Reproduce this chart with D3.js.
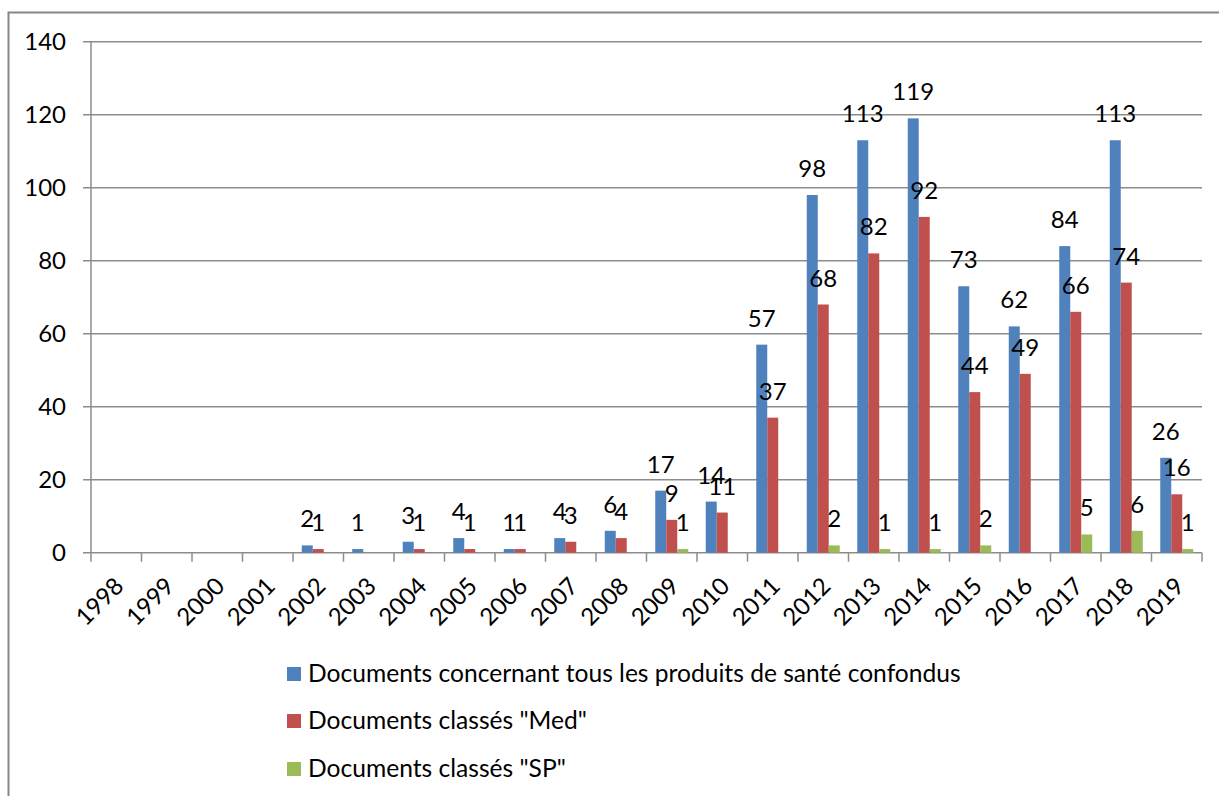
<!DOCTYPE html>
<html>
<head>
<meta charset="utf-8">
<script src="https://cdn.jsdelivr.net/npm/d3@7"></script>
<style>
  body { margin: 0; background: #fff; }
  svg text { font-family: Lato, "Open Sans", sans-serif; fill: #000; }
</style>
</head>
<body>
<div id="chart"></div>
<script>
// years on the x axis
var years = ["1998", "1999", "2000", "2001", "2002", "2003", "2004", "2005", "2006", "2007", "2008",
  "2009", "2010", "2011", "2012", "2013", "2014", "2015", "2016", "2017", "2018", "2019"];

// null = nothing plotted for that year
var tous = [null, null, null, null, 2, 1, 3, 4, 1, 4, 6, 17, 14, 57, 98, 113, 119, 73, 62, 84, 113, 26];
var med = [null, null, null, null, 1, null, 1, 1, 1, 3, 4, 9, 11, 37, 68, 82, 92, 44, 49, 66, 74, 16];
var sp = [null, null, null, null, null, null, null, null, null, null, null, 1, null, null, 2, 1, 1, 2, null, 5, 6, 1];

var seriesNames = [
  "Documents concernant tous les produits de santé confondus",
  "Documents classés \"Med\"",
  "Documents classés \"SP\""
];
var seriesColors = ["#4F81BD", "#C0504D", "#9BBB59"];
var yTicks = [0, 20, 40, 60, 80, 100, 120, 140];

var W = 1219, H = 796;
var margin = {top: 41.7, left: 91, right: 1202, bottom: 552.7};
var fontSize = 24;

var svg = d3.select("#chart").append("svg")
  .attr("width", W)
  .attr("height", H);

// outer frame (runs off the right and bottom edges)
svg.append("rect")
  .attr("x", 8.5)
  .attr("y", 12.5)
  .attr("width", W + 20)
  .attr("height", H + 20)
  .attr("fill", "none")
  .attr("stroke", "#868686")
  .attr("stroke-width", 2);

var x = d3.scaleBand()
  .domain(years)
  .range([margin.left, margin.right]);

var inner = d3.scaleBand()
  .domain([0, 1, 2])
  .range([x.bandwidth() * 0.1733, x.bandwidth() * 0.8267]);

var y = d3.scaleLinear()
  .domain([0, 140])
  .range([margin.bottom, margin.top]);

// gridlines
svg.append("g")
  .selectAll("line")
  .data(yTicks)
  .enter()
  .append("line")
  .attr("x1", margin.left - 8)
  .attr("x2", margin.right)
  .attr("y1", function(d) { return y(d); })
  .attr("y2", function(d) { return y(d); })
  .attr("stroke", "#8c8c8c")
  .attr("stroke-width", 1.5);

// y axis line
svg.append("line")
  .attr("x1", margin.left)
  .attr("x2", margin.left)
  .attr("y1", y(140))
  .attr("y2", y(0))
  .attr("stroke", "#8c8c8c")
  .attr("stroke-width", 1.5);

// y tick labels
svg.append("g")
  .selectAll("text")
  .data(yTicks)
  .enter()
  .append("text")
  .attr("x", 66)
  .attr("y", function(d) { return y(d); })
  .attr("dy", "0.35em")
  .attr("text-anchor", "end")
  .style("font-size", fontSize + "px")
  .text(function(d) { return d; });

// x ticks at band edges
var edges = years.map(function(d) { return x(d); }).concat([margin.right]);
svg.append("g")
  .selectAll("line")
  .data(edges)
  .enter()
  .append("line")
  .attr("x1", function(d) { return d; })
  .attr("x2", function(d) { return d; })
  .attr("y1", y(0))
  .attr("y2", y(0) + 9)
  .attr("stroke", "#8c8c8c")
  .attr("stroke-width", 1.5);

// x labels, rotated
svg.append("g")
  .selectAll("text")
  .data(years)
  .enter()
  .append("text")
  .attr("text-anchor", "end")
  .attr("transform", function(d) {
    return "translate(" + (x(d) + x.bandwidth() / 2 + 3) + "," + (y(0) + 29) + ") rotate(-45)";
  })
  .attr("dy", "0.35em")
  .style("font-size", fontSize + "px")
  .text(function(d) { return d; });

// bars + value labels
var allSeries = [tous, med, sp];
allSeries.forEach(function(values, si) {
  var pts = [];
  values.forEach(function(v, i) {
    if (v !== null) pts.push({year: years[i], value: v});
  });

  svg.append("g")
    .selectAll("rect")
    .data(pts)
    .enter()
    .append("rect")
    .attr("x", function(d) { return x(d.year) + inner(si); })
    .attr("width", inner.bandwidth())
    .attr("y", function(d) { return y(d.value); })
    .attr("height", function(d) { return y(0) - y(d.value); })
    .attr("fill", seriesColors[si]);

  svg.append("g")
    .selectAll("text")
    .data(pts)
    .enter()
    .append("text")
    .attr("x", function(d) { return x(d.year) + inner(si) + inner.bandwidth() / 2; })
    .attr("y", function(d) { return y(d.value) - 18; })
    .attr("text-anchor", "middle")
    .style("font-size", fontSize + "px")
    .text(function(d) { return d.value; });
});

// legend
var legendY = [682, 729, 777];
var legend = svg.append("g")
  .selectAll("g")
  .data(seriesNames)
  .enter()
  .append("g");

legend.append("rect")
  .attr("x", 287)
  .attr("y", function(d, i) { return legendY[i] - 15; })
  .attr("width", 14)
  .attr("height", 14)
  .attr("fill", function(d, i) { return seriesColors[i]; });

legend.append("text")
  .attr("x", 308)
  .attr("y", function(d, i) { return legendY[i]; })
  .style("font-size", "24.6px")
  .text(function(d) { return d; });
</script>
</body>
</html>
